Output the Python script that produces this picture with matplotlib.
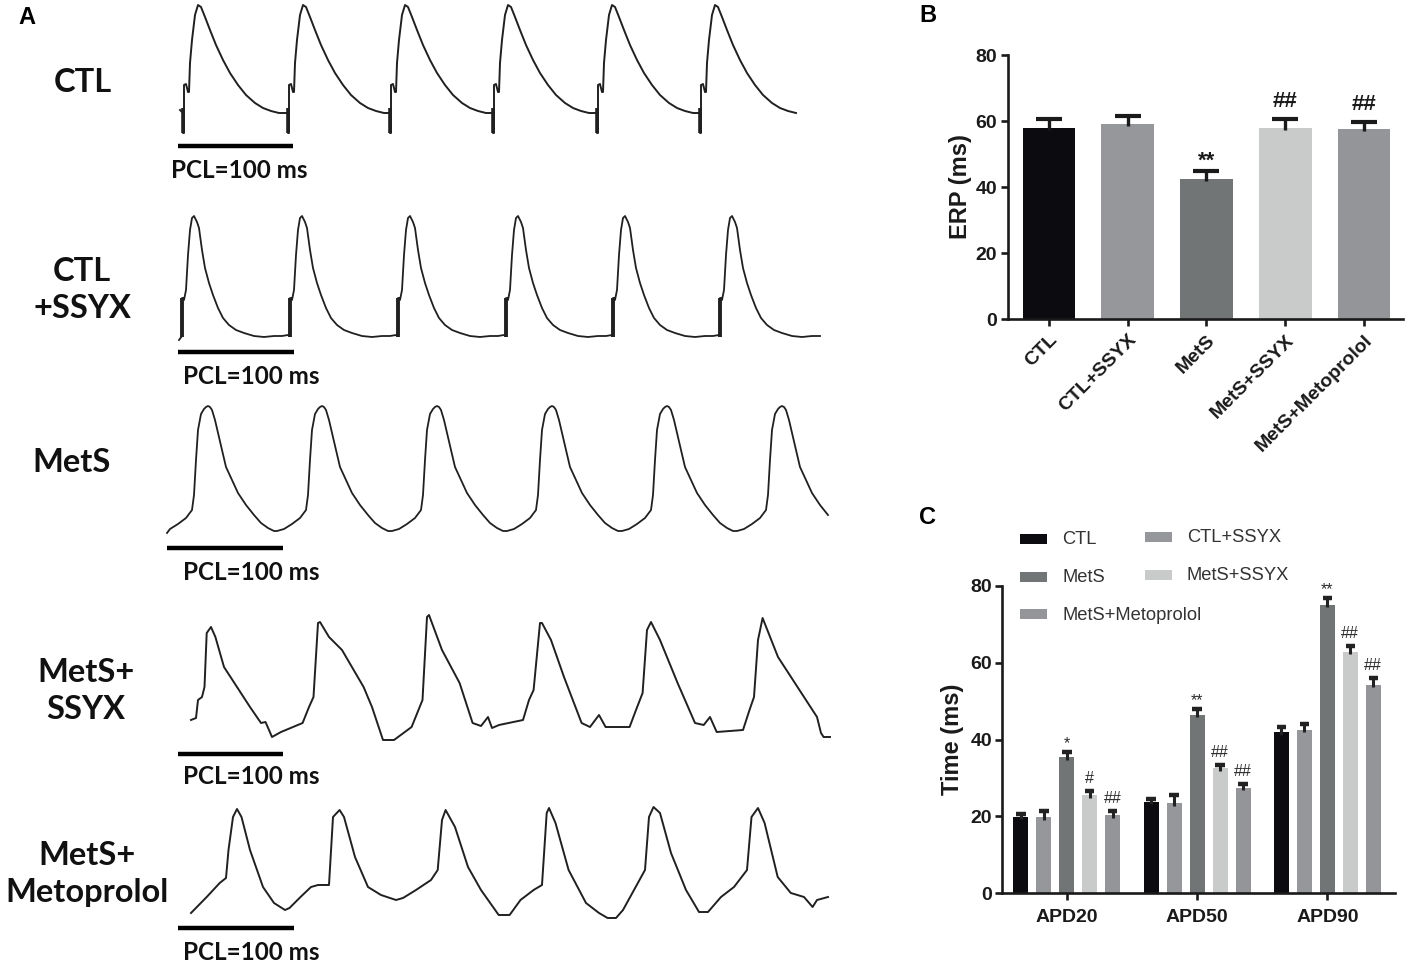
import matplotlib
matplotlib.use("Agg")
import matplotlib.pyplot as plt
from matplotlib.patches import Rectangle
import numpy as np

# ---------------- DATA ----------------
groups = ["CTL", "CTL+SSYX", "MetS", "MetS+SSYX", "MetS+Metoprolol"]
bar_colors = ["#0b0b10", "#95979b", "#727576", "#c9cbca", "#939598"]

# Panel B: ERP (ms)
erp_mean = [58.0, 59.1, 42.3, 57.8, 57.5]
erp_err = [2.5, 2.4, 2.6, 2.7, 2.3]
erp_marks = ["", "", "**", "##", "##"]

# Panel C: APD (ms)
apd_labels = ["APD20", "APD50", "APD90"]
apd_mean = {
    "CTL":             [19.9, 23.8, 41.9],
    "CTL+SSYX":        [19.8, 23.4, 42.5],
    "MetS":            [35.4, 46.5, 75.1],
    "MetS+SSYX":       [25.5, 32.5, 62.9],
    "MetS+Metoprolol": [20.3, 27.4, 54.2],
}
apd_err = {
    "CTL":             [0.7, 0.8, 1.3],
    "CTL+SSYX":        [1.5, 2.2, 1.5],
    "MetS":            [1.3, 1.5, 1.7],
    "MetS+SSYX":       [1.1, 0.9, 1.5],
    "MetS+Metoprolol": [1.2, 1.0, 1.8],
}
apd_marks = {
    "CTL":             ["", "", ""],
    "CTL+SSYX":        ["", "", ""],
    "MetS":            ["*", "**", "**"],
    "MetS+SSYX":       ["#", "##", "##"],
    "MetS+Metoprolol": ["##", "##", "##"],
}

# Panel A: optical action potential traces (time axis in px-like units, potential axis inverted)
ctl_onsets = [183, 288, 390, 493, 597, 700]
ctl_beat_dt = [0, 0, 1, 1, 3, 5, 6, 7, 9, 12, 15, 18, 22, 27, 33, 40, 47, 55, 63, 72, 80, 88, 96, 102]
ctl_beat_v = [113, 133, 133, 85, 84, 92, 92, 63, 40, 15, 5, 7, 17, 30, 45, 60, 73, 85, 95, 103, 108, 111, 113, 113]
ctl_art = (108, 133)

ssyx_onsets = [182, 290, 398, 506, 613, 720]
ssyx_beat_dt = [0, 0, 1, 2, 4, 6, 8, 10, 12, 15, 17, 20, 23, 27, 31, 36, 41, 47, 54, 62, 72, 82, 92, 100, 106]
ssyx_beat_v = [336, 298, 298, 300, 290, 255, 230, 218, 216, 222, 228, 250, 268, 283, 295, 308, 318, 325, 330, 333, 336, 337, 336, 336, 335]
ssyx_art = (298, 337)

mets_peaks = [208, 322, 437, 552, 667, 782]
mets_beat_dt = [-45, -38, -30, -22, -16, -14, -12, -10, -7, -4, -2, 0, 2, 4, 7, 10, 14, 18, 24, 30, 38, 46, 53, 60, 66, 69]
mets_beat_v = [531, 529, 524, 518, 510, 495, 460, 430, 414, 409, 407, 406, 407, 410, 420, 433, 450, 467, 480, 493, 505, 515, 523, 528, 531, 531]

metsssyx_t = [191, 196, 198, 202, 204.5, 206.7, 211, 215.4, 224, 237, 250, 261, 265.5, 267.7, 272, 281,
              302.6, 309, 313.5, 318, 320, 329, 342, 363.6, 372, 383, 394, 411.6, 422.5, 427, 429, 442,
              459.6, 472.6, 481, 488, 492, 499, 523, 529, 533.6, 540, 542, 551, 564, 581.6, 590, 599,
              605.6, 629.6, 636, 642.6, 647, 651, 660, 677.6, 695, 703.7, 710, 716.7, 743, 749.5, 754,
              758, 762.6, 778, 804, 817, 821, 823.6, 830]
metsssyx_v = [720, 718, 700, 697, 687, 633, 627, 637, 667, 687, 707, 723, 722, 727, 737, 732,
              723, 707, 697, 623, 622, 637, 650, 687, 707, 740, 740, 727, 700, 617, 615, 650,
              683, 723, 726, 717, 728, 725, 720, 700, 690, 623, 623, 640, 677, 723, 727, 715,
              727, 727, 710, 693, 630, 622, 640, 683, 723, 725, 717, 732, 730, 710, 697,
              640, 618, 657, 697, 717, 733, 737, 737]

metsmet_t = [191, 206.7, 219.7, 226, 228.5, 233, 237, 241.5, 250, 263, 274, 285, 289.5, 300.5, 311, 318,
             329, 333, 339.6, 344, 355, 368, 381, 396, 403, 416, 431, 437.7, 442, 445.6, 455, 468,
             481, 498.7, 509.6, 520.5, 533.6, 542, 546.7, 549, 555.5, 568.6, 586, 599, 607.6, 616,
             623, 634, 645, 649, 653.5, 660, 671, 686, 699, 708, 721, 734, 747, 751.5, 758, 764.6,
             777.7, 790.8, 804, 812.6, 817, 828]
metsmet_v = [913, 897, 883, 878, 850, 817, 809, 817, 850, 887, 903, 910, 908, 897, 887, 885,
             885, 817, 810, 817, 857, 887, 895, 900, 898, 890, 880, 870, 820, 810, 827, 867,
             890, 915, 915, 900, 890, 885, 813, 808, 823, 870, 903, 913, 918, 918,
             910, 890, 870, 817, 807, 813, 853, 890, 912, 912, 897, 887, 870, 817, 808, 823,
             877, 893, 897, 907, 900, 897]

row_labels = ["CTL", "CTL\n+SSYX", "MetS", "MetS+\nSSYX", "MetS+\nMetoprolol"]
scale_text = "PCL=100 ms"

# ---------------- FIGURE ----------------
W, H = 1407, 963
fig = plt.figure(figsize=(W / 100, H / 100), dpi=100)

A_FONT = ["Lato", "DejaVu Sans"]
ARIAL = ["Liberation Sans", "DejaVu Sans"]
tcol = "#1a1a1a"
lcol = "#202020"

ov = fig.add_axes([0, 0, 1, 1])
ov.set_xlim(0, W)
ov.set_ylim(H, 0)
ov.axis("off")
ov.patch.set_alpha(0)


def build(onsets, dt, v, start, xmax):
    xs, ys = [start[0]], [start[1]]
    for o in onsets:
        for d, val in zip(dt, v):
            xs.append(o + d); ys.append(val)
    xs = np.array(xs, float); ys = np.array(ys, float)
    keep = (xs <= xmax) & (xs >= start[0])
    return xs[keep], ys[keep]


x1, y1 = build(ctl_onsets, ctl_beat_dt, ctl_beat_v, (180, 110), 797)
ov.plot(x1, y1, color=lcol, lw=1.4, solid_joinstyle="round")
ov.vlines(ctl_onsets, ctl_art[0], ctl_art[1], color=lcol, lw=2.6)
x2, y2 = build(ssyx_onsets, ssyx_beat_dt, ssyx_beat_v, (179, 340), 823)
ov.plot(x2, y2, color=lcol, lw=1.3, solid_joinstyle="round")
ov.vlines(ssyx_onsets, ssyx_art[0], ssyx_art[1], color=lcol, lw=2.8)
x3, y3 = build(mets_peaks, mets_beat_dt, mets_beat_v, (167, 533), 830)
ov.plot(x3, y3, color=lcol, lw=1.3, solid_joinstyle="round")
ov.plot(metsssyx_t, metsssyx_v, color=lcol, lw=1.4, solid_joinstyle="round")
ov.plot(metsmet_t, metsmet_v, color=lcol, lw=1.4, solid_joinstyle="round")

bars_pos = [(178, 293, 146), (178, 294, 352), (167, 283, 548), (178, 283, 754), (178, 294, 928)]
text_pos = [(171, 171), (183, 377), (183, 573), (183, 776), (183, 952)]
for (xa, xb_, yb), (tx, ty) in zip(bars_pos, text_pos):
    ov.plot([xa, xb_], [yb, yb], color="black", lw=3.2, solid_capstyle="butt")
    ov.text(tx, ty, scale_text, ha="left", va="center", fontsize=17.5, fontweight="bold",
            family=A_FONT, color="#111")

label_pos = [(83, 83), (82, 290), (72, 462), (86, 691), (87, 874)]
for lab, (lx, ly) in zip(row_labels, label_pos):
    ov.text(lx, ly, lab, ha="center", va="center", fontsize=23.5, fontweight="bold",
            family=A_FONT, color="#111", linespacing=1.3, multialignment="center")

for letter, (px, py) in zip("ABC", [(27, 18), (928, 15), (928, 517)]):
    ov.text(px, py, letter, ha="center", va="center", fontsize=17, fontweight="bold",
            family=ARIAL, color="black")


def style_axes(ax):
    for s in ["top", "right"]:
        ax.spines[s].set_visible(False)
    for s in ["left", "bottom"]:
        ax.spines[s].set_linewidth(1.9)
        ax.spines[s].set_color(tcol)
    ax.tick_params(axis="both", which="major", length=5, width=1.9, color=tcol,
                   labelcolor=tcol, labelsize=14)
    for lab in ax.get_xticklabels() + ax.get_yticklabels():
        lab.set_fontweight("bold")
        lab.set_family(ARIAL)
    ax.patch.set_alpha(0)


def upper_err(ax, xs, tops, errs, half, lw_stem, lw_cap, color):
    xs = np.asarray(xs, float); tops = np.asarray(tops, float); errs = np.asarray(errs, float)
    ax.vlines(xs, tops - 0.6, tops + errs, color=color, lw=lw_stem, zorder=3)
    ax.hlines(tops + errs, xs - half, xs + half, color=color, lw=lw_cap, zorder=3)


# ---------------- Panel B ----------------
axb = fig.add_axes([1008 / W, 1 - 319 / H, 395 / W, 264 / H])
xb = np.arange(len(groups))
axb.bar(xb, erp_mean, width=0.667, color=bar_colors, zorder=2)
upper_err(axb, xb, erp_mean, erp_err, 0.165, 2.4, 3.0, "#1a1a1a")
axb.set_xlim(-0.52, 4.495)
axb.set_ylim(0, 80)
axb.set_yticks([0, 20, 40, 60, 80])
axb.set_xticks(xb)
axb.set_xticklabels(groups, rotation=45, ha="right", rotation_mode="anchor")
axb.tick_params(axis="y", pad=3)
axb.tick_params(axis="x", pad=4)
style_axes(axb)
for xi, m, e, mk in zip(xb, erp_mean, erp_err, erp_marks):
    if mk:
        off = 7 if "*" in mk else 12.5
        axb.annotate(mk, (xi, m + e), xytext=(0, off), textcoords="offset points",
                     ha="center", va="center", fontsize=16, fontweight="bold",
                     family=ARIAL, color="#1a1a1a")
ov.text(960, 187, "ERP (ms)", rotation=90, ha="center", va="center", fontsize=17,
        fontweight="bold", family=ARIAL, color=tcol)

# ---------------- Panel C ----------------
axc = fig.add_axes([1001.7 / W, 1 - 893.3 / H, 393.3 / W, 307.3 / H])
xg = np.arange(len(apd_labels))
step = 0.1765
bw = 0.115
for i, (g, c) in enumerate(zip(groups, bar_colors)):
    pos = xg + (i - 2) * step
    axc.bar(pos, apd_mean[g], width=bw, color=c, zorder=2)
    upper_err(axc, pos, apd_mean[g], apd_err[g], 0.036, 2.2, 3.2, "#222222")
    for p, m, e, mk in zip(pos, apd_mean[g], apd_err[g], apd_marks[g]):
        if mk:
            off = 6 if "*" in mk else 9
            axc.annotate(mk, (p, m + e), xytext=(0, off), textcoords="offset points",
                         ha="center", va="center", fontsize=11.5, family=ARIAL, color="#2a2a2a")
axc.set_xlim(-0.5, 2.52)
axc.set_ylim(0, 80)
axc.set_yticks([0, 20, 40, 60, 80])
axc.set_xticks(xg)
axc.set_xticklabels(apd_labels)
axc.tick_params(axis="y", pad=2)
axc.tick_params(axis="x", pad=6)
style_axes(axc)
ov.text(952, 739, "Time (ms)", rotation=90, ha="center", va="center", fontsize=17,
        fontweight="bold", family=ARIAL, color=tcol)

leg_pos = {
    "CTL": (1020, 539), "CTL+SSYX": (1145, 537),
    "MetS": (1020, 577), "MetS+SSYX": (1145, 575),
    "MetS+Metoprolol": (1020, 614),
}
for g, c in zip(groups, bar_colors):
    sx, sy = leg_pos[g]
    ov.add_patch(Rectangle((sx, sy - 5), 27, 10, facecolor=c, edgecolor="none"))
    ov.text(sx + 42, sy + 1, g, ha="left", va="center", fontsize=13.2, family=ARIAL, color="#333")

fig.savefig("out.png", dpi=100)
